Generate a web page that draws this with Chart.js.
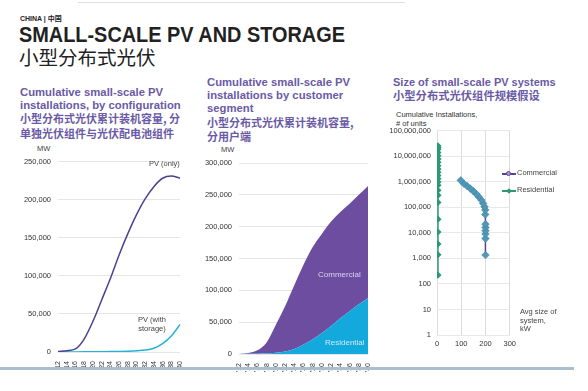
<!DOCTYPE html>
<html>
<head>
<meta charset="utf-8">
<script src="https://cdn.jsdelivr.net/npm/chart.js@4.4.0/dist/chart.umd.min.js"></script>
<style>
  body { margin: 0; width: 588px; height: 391px; background: #fff; overflow: hidden; position: relative;
         font-family: "Liberation Sans", Arial, "Noto Sans CJK SC", sans-serif; color: #222; }
  .abs { position: absolute; white-space: nowrap; }
  canvas { position: absolute; }
  .ptitle { color: #6a5aa5; font-weight: bold; font-size: 11.3px; line-height: 13.2px; }
  .cn { font-family: "Noto Sans CJK SC", sans-serif; font-size: 11px; }
  .note { font-size: 7.5px; color: #444; line-height: 8.5px; }
</style>
</head>
<body>
<div class="abs" style="left:78px;top:2px;width:327px;height:1px;background:#ddd"></div>
<div class="abs" style="left:20px;top:13px;font-size:7px;font-weight:bold">CHINA | <span class="cn" style="font-size:7px">中国</span></div>
<div class="abs" style="left:19px;top:23px;font-size:21.5px;font-weight:bold;line-height:24px;transform:scaleX(0.925);transform-origin:0 0">SMALL-SCALE PV AND STORAGE</div>
<div class="abs cn" style="left:19px;top:45px;font-size:19.5px;line-height:24px;color:#222">小型分布式光伏</div>

<div class="abs ptitle" style="left:20px;top:86px">Cumulative small-scale PV<br>installations, by configuration<br><span class="cn">小型分布式光伏累计装机容量, 分<br>单独光伏组件与光伏配电池组件</span></div>
<div class="abs ptitle" style="left:207px;top:76px">Cumulative small-scale PV<br>installations by customer<br>segment<br><span class="cn">小型分布式光伏累计装机容量,<br>分用户端</span></div>
<div class="abs ptitle" style="left:393px;top:76px;font-size:11px">Size of small-scale PV systems<br><span class="cn" style="font-size:11.3px">小型分布式光伏组件规模假设</span></div>

<div class="abs note" style="left:37px;top:145px">MW</div>
<div class="abs note" style="left:221px;top:146px">MW</div>
<div class="abs note" style="left:396px;top:111px;color:#333">Cumulative Installations,<br># of units</div>

<canvas id="c1" width="190" height="220" style="left:0;top:150px"></canvas>
<canvas id="c2" width="185" height="222" style="left:195px;top:150px"></canvas>
<canvas id="c3" width="135" height="230" style="left:385px;top:120px"></canvas>

<div class="abs note" style="left:149px;top:160px">PV (only)</div>
<div class="abs note" style="left:138px;top:316px;text-align:center">PV (with<br>storage)</div>
<div class="abs" style="left:318px;top:270px;font-size:8px;color:#ddd5f0">Commercial</div>
<div class="abs" style="left:325px;top:338px;font-size:8px;color:#cfeaf7">Residential</div>

<div class="abs" style="left:502px;top:173px;width:14px;height:1.5px;background:#5a3f98"></div>
<div class="abs" style="left:506px;top:171px;width:5px;height:5px;border-radius:50%;background:#a99bd6;border:0.5px solid #5a3f98;box-sizing:border-box"></div>
<div class="abs note" style="left:517px;top:169px">Commercial</div>
<div class="abs" style="left:502px;top:190px;width:14px;height:1.5px;background:#2a9a72"></div>
<div class="abs" style="left:507px;top:188.5px;width:4px;height:4px;transform:rotate(45deg);background:#2a9a72"></div>
<div class="abs note" style="left:517px;top:186px">Residential</div>
<div class="abs note" style="left:520px;top:308px">Avg size of<br>system,<br>kW</div>

<div class="abs" style="left:0;top:367px;width:574px;height:3px;background:#aabfce"></div>

<script>
// panel 1 + 2: years on the x axis
const years = ["'12", "'14", "'16", "'18", "'20", "'22", "'24", "'26", "'28", "'30", "'32", "'34", "'36", "'38", "'40"];

// panel 1: MW by configuration
const pvOnly = [500, 1700, 4000, 17000, 40000, 68000, 96000, 127000, 155000, 180000, 201000, 217000, 228000, 231000, 228000];
const pvStorage = [0, 0, 100, 200, 300, 400, 500, 700, 1000, 1500, 2500, 5000, 11000, 21000, 36000];

// panel 2: MW by customer segment (stacked)
const residential = [0, 200, 500, 1000, 2000, 4000, 8000, 15000, 23000, 33000, 44000, 56000, 67000, 78000, 88000];
const commercial = [0, 1300, 5200, 17000, 44000, 71000, 100000, 125000, 145000, 156000, 164000, 167000, 169000, 172000, 176000];

// panel 3: avg system size (kW) vs cumulative units
const commSize = [200, 200, 200, 200, 200, 200, 199, 199, 196, 190, 183, 172, 163, 150, 137, 124, 111, 98];
const commUnits = [1340, 5900, 8900, 12000, 16000, 21700, 52000, 78000, 105000, 141000, 190000, 255000, 323000, 424000, 537000, 675000, 828000, 1120000];
const resSize = [4, 4, 4, 4, 4, 4, 4, 4, 4, 4, 4, 4, 4, 4, 4, 4, 4, 4, 4, 4, 4, 4];
const resUnits = [220, 1380, 3650, 10700, 34000, 154000, 296000, 460000, 720000, 960000, 1300000, 1740000, 2340000, 3100000, 4200000, 5700000, 7600000, 10300000, 13800000, 18600000, 21800000, 25000000];
const logTicks = [1, 10, 100, 1000, 10000, 100000, 1000000, 10000000, 100000000];

Chart.defaults.font.family = "'Liberation Sans', Arial, sans-serif";
Chart.defaults.font.size = 7.5;
Chart.defaults.color = "#333";
Chart.defaults.animation = false;

var fmt = function (v) { return Number(v).toLocaleString("en-US"); };

function yearAxis(h) {
  return {
    grid: { display: false },
    border: { display: false },
    ticks: { autoSkip: false, minRotation: 90, maxRotation: 90, padding: 1, font: { size: 7 } },
    afterFit: function (s) { s.height = h; }
  };
}

new Chart(document.getElementById("c1"), {
  type: "line",
  data: {
    labels: years,
    datasets: [
      { label: "PV (only)", data: pvOnly, borderColor: "#4a4290", borderWidth: 1.5, pointRadius: 0, cubicInterpolationMode: "monotone" },
      { label: "PV (with storage)", data: pvStorage, borderColor: "#22b3d8", borderWidth: 1.5, pointRadius: 0, cubicInterpolationMode: "monotone" }
    ]
  },
  options: {
    responsive: false,
    layout: { padding: { top: 9, right: 10, left: 0, bottom: 0 } },
    plugins: { legend: { display: false }, tooltip: { enabled: false } },
    scales: {
      x: yearAxis(18),
      y: {
        min: 0, max: 250000,
        grid: { color: "#e6e6e6", drawTicks: false },
        border: { display: false },
        ticks: { stepSize: 50000, padding: 7, callback: fmt },
        afterFit: function (s) { s.width = 58; }
      }
    }
  }
});

new Chart(document.getElementById("c2"), {
  type: "line",
  data: {
    labels: years,
    datasets: [
      { label: "Residential", data: residential, borderWidth: 0, pointRadius: 0, fill: "origin", backgroundColor: "#14a9dd", cubicInterpolationMode: "monotone" },
      { label: "Commercial", data: commercial, borderWidth: 0, pointRadius: 0, fill: "-1", backgroundColor: "#6c4d9f", cubicInterpolationMode: "monotone" }
    ]
  },
  options: {
    responsive: false,
    layout: { padding: { top: 13, right: 12, left: 0, bottom: 0 } },
    plugins: { legend: { display: false }, tooltip: { enabled: false } },
    scales: {
      x: yearAxis(18),
      y: {
        stacked: true,
        min: 0, max: 300000,
        grid: { color: "#e6e6e6", drawTicks: false },
        border: { display: false },
        ticks: { stepSize: 50000, padding: 7, callback: fmt },
        afterFit: function (s) { s.width = 44; }
      }
    }
  }
});

new Chart(document.getElementById("c3"), {
  type: "scatter",
  data: {
    datasets: [
      {
        label: "Commercial",
        data: commSize.map(function (x, i) { return { x: x, y: commUnits[i] }; }),
        showLine: true, borderColor: "#5a3f98", borderWidth: 1.5,
        pointStyle: "rectRot", pointRadius: 3.8, pointBackgroundColor: "#4f98b8", pointBorderColor: "#3b7c9c", pointBorderWidth: 0.5
      },
      {
        label: "Residential",
        data: resSize.map(function (x, i) { return { x: x, y: resUnits[i] }; }),
        showLine: true, borderColor: "#2a9a72", borderWidth: 1.5,
        pointStyle: "rectRot", pointRadius: 2.5, pointBackgroundColor: "#2a9a72", pointBorderColor: "#2a9a72"
      }
    ]
  },
  options: {
    responsive: false,
    layout: { padding: { top: 8, right: 7, left: 0, bottom: 0 } },
    plugins: { legend: { display: false }, tooltip: { enabled: false } },
    scales: {
      x: {
        type: "linear", min: 0, max: 300,
        grid: { color: "#dcdcdc", drawTicks: false },
        border: { display: false },
        ticks: { stepSize: 100, padding: 4 },
        afterFit: function (s) { s.height = 15; }
      },
      y: {
        type: "logarithmic", min: 1, max: 100000000,
        grid: { color: "#e8e8e8", drawTicks: false },
        border: { display: false },
        afterBuildTicks: function (s) { s.ticks = logTicks.map(function (v) { return { value: v }; }); },
        ticks: { padding: 6, callback: fmt },
        afterFit: function (s) { s.width = 52; }
      }
    }
  }
});
</script>
</body>
</html>
